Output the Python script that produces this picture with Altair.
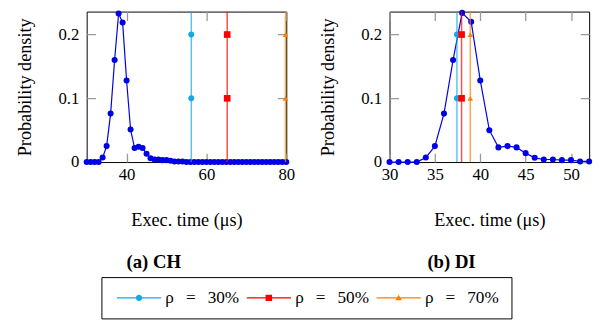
import altair as alt
import pandas as pd

# ---------------- data ----------------
ch_time = list(range(30, 81))
ch_density = [0, 0, 0, 0, 0.007, 0.025, 0.076, 0.160, 0.233, 0.219, 0.128, 0.051,
              0.022, 0.024, 0.022, 0.013, 0.006, 0.004, 0.004, 0.003, 0.003, 0.002,
              0.001, 0.001, 0.001] + [0] * 26

di_time = list(range(30, 53))
di_density = [0, 0, 0, 0, 0.007, 0.025, 0.076, 0.160, 0.234, 0.220, 0.128, 0.050,
              0.023, 0.025, 0.023, 0.014, 0.0066, 0.004, 0.004, 0.003, 0.003, 0.001, 0.001]

rho_labels = ["ρ\u2002\u2009=\u2002\u200930%", "ρ\u2002\u2009=\u2002\u200950%", "ρ\u2002\u2009=\u2002\u200970%"]
ch_rho_x = [56.2, 65.2, 79.8]
di_rho_x = [37.43, 37.94, 38.9]
marker_levels = [0.1, 0.2]

ch_ticks = [40, 60, 80]
di_ticks = [30, 35, 40, 45, 50]
y_ticks = [0, 0.1, 0.2]

# ---------------- style ----------------
FONT = "Liberation Serif"
W, H = 203, 153
series_colors = ["#14A9E6", "#FF0000", "#FF8000"]
marker_shapes = ["circle", "square", "triangle-up"]
marker_sizes = [36, 46, 32]
curve_color = "#0000E6"

# legend symbol paths (unit = 5 px, symbolSize 100): line segment + marker
LINE = "M-4.5,-0.12L4.5,-0.12L4.5,0.12L-4.5,0.12Z"
legend_paths = [
    LINE + "M0.66,0A0.66,0.66,0,1,1,-0.66,0A0.66,0.66,0,1,1,0.66,0Z",
    LINE + "M-0.66,-0.66L0.66,-0.66L0.66,0.66L-0.66,0.66Z",
    LINE + "M0,-0.62L0.66,0.5L-0.66,0.5Z",
]


def panel(times, dens, rho_x, domain, ticks, caption, cap_dx, with_legend):
    curve = pd.DataFrame({"x": times, "y": dens})
    xscale = alt.Scale(domain=domain, nice=False, zero=False)
    yscale = alt.Scale(domain=[0, 0.236], nice=False, zero=False)
    xaxis = alt.Axis(values=ticks, labelPadding=5, labelFlush=False, labelOverlap=False,
                     title="Exec. time (μs)", titleX=W / 2, titleY=59, titleAlign="center",
                     titleBaseline="middle", gridDash=[9, H - 18])
    yaxis = alt.Axis(values=y_ticks, format=".1~f", labelPadding=8, labelFlush=False,
                     labelOverlap=False, title="Probability density", titleX=-63,
                     titleY=H / 2, titleAlign="center", titleBaseline="middle",
                     titleAngle=270, gridDash=[9, W - 18])

    layers = [
        alt.Chart(curve).mark_line(color=curve_color, strokeWidth=1.2).encode(
            x=alt.X("x:Q", scale=xscale, axis=xaxis),
            y=alt.Y("y:Q", scale=yscale, axis=yaxis),
        ),
        alt.Chart(curve).mark_point(filled=True, color=curve_color, size=38, opacity=1).encode(
            x=alt.X("x:Q", scale=xscale), y=alt.Y("y:Q", scale=yscale)
        ),
    ]
    for i, lab in enumerate(rho_labels):
        rd = pd.DataFrame({"x": [rho_x[i]]})
        layers.append(
            alt.Chart(rd).mark_rule(color=series_colors[i], strokeWidth=1.5, opacity=0.7).encode(
                x=alt.X("x:Q", scale=xscale)
            )
        )
    for i, lab in enumerate(rho_labels):
        md = pd.DataFrame({"x": [rho_x[i]] * len(marker_levels), "y": marker_levels})
        layers.append(
            alt.Chart(md).mark_point(shape=marker_shapes[i], filled=True, size=marker_sizes[i],
                                     color=series_colors[i], opacity=1).encode(
                x=alt.X("x:Q", scale=xscale), y=alt.Y("y:Q", scale=yscale)
            )
        )
    if with_legend:
        ld = pd.DataFrame({"rho": rho_labels, "x": rho_x, "y": [0.1] * 3})
        leg = alt.Legend(title=None, orient="none", legendX=15, legendY=270,
                         direction="horizontal", strokeColor="black", fillColor="white",
                         padding=12, columnPadding=3, labelOffset=18, symbolOffset=17.5,
                         symbolSize=100, symbolStrokeWidth=0, symbolOpacity=1,
                         labelFont=FONT, labelFontSize=17.5, labelColor="black",
                         labelLimit=300)
        layers.append(
            alt.Chart(ld).mark_point(filled=True, opacity=0).encode(
                x=alt.X("x:Q", scale=xscale),
                y=alt.Y("y:Q", scale=yscale),
                color=alt.Color("rho:N", scale=alt.Scale(domain=rho_labels, range=series_colors),
                                legend=leg),
                shape=alt.Shape("rho:N", scale=alt.Scale(domain=rho_labels, range=legend_paths),
                                legend=leg),
            )
        )
    return alt.layer(*layers).properties(
        width=W, height=H,
        title=alt.TitleParams(caption, orient="bottom", anchor="middle", frame="bounds",
                              dx=cap_dx, offset=24, font=FONT, fontSize=19,
                              fontWeight="bold", color="black"),
    )


left = panel(ch_time, ch_density, ch_rho_x, [30, 80], ch_ticks, "(a) CH", -3, True)
right = panel(di_time, di_density, di_rho_x, [30, 52], di_ticks, "(b) DI", -4, False)

chart = (
    alt.hconcat(left, right, spacing=19)
    .resolve_scale(x="independent", y="independent")
    .properties(padding={"left": 7, "top": -2, "right": 5, "bottom": 0})
    .configure(font=FONT)
    .configure_view(stroke="black", strokeWidth=1)
    .configure_axis(labelFont=FONT, labelFontSize=17, labelColor="black",
                    titleFont=FONT, titleFontSize=18.5, titleFontWeight="normal",
                    titleColor="black", domain=False, ticks=False, tickSize=0,
                    grid=True, gridColor="#999999", gridWidth=1.3, gridOpacity=1)
)

chart.save("out.html", embed_options={"renderer": "svg", "actions": False})
